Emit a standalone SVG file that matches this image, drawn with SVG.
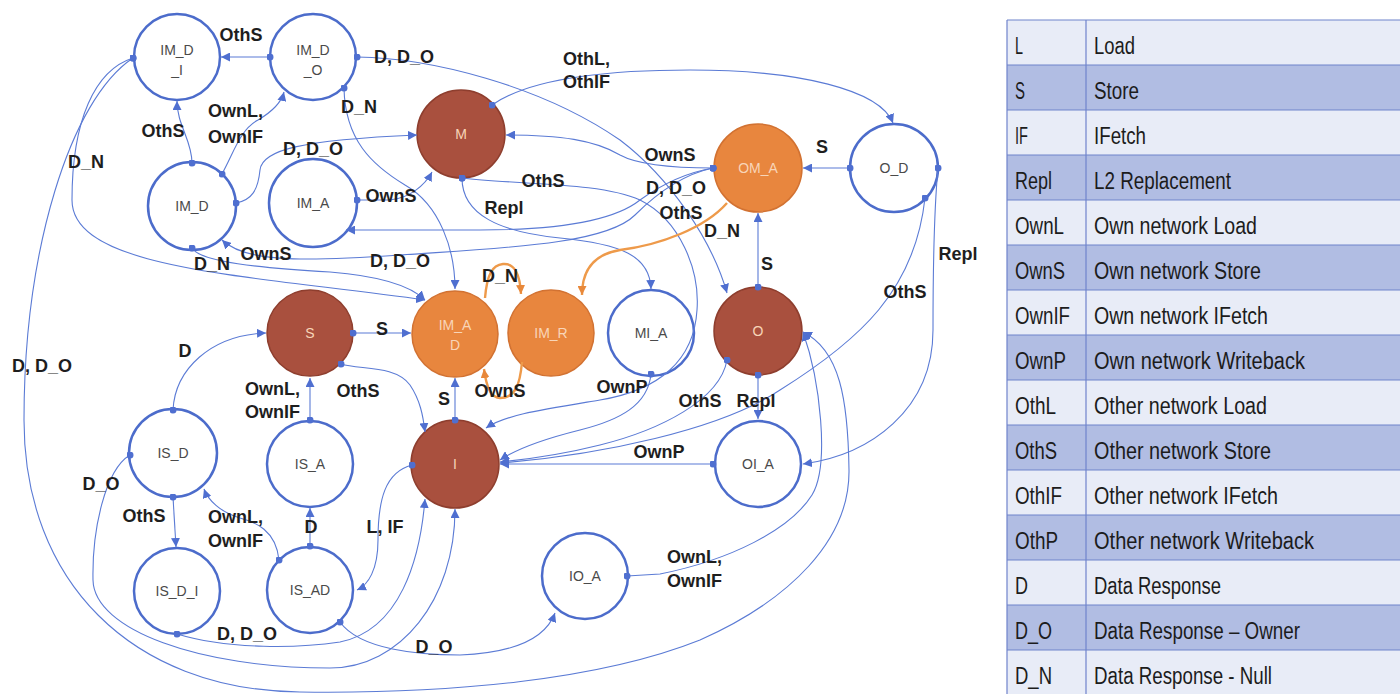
<svg xmlns="http://www.w3.org/2000/svg" width="1400" height="694" viewBox="0 0 1400 694">
<defs>
<style>
.nw{fill:#ffffff;stroke:#4C6CCB;stroke-width:2.5}
.nb{fill:#A9503E;stroke:#8E3E2E;stroke-width:1.5}
.no{fill:#E8863E;stroke:#D27232;stroke-width:1.5}
.tw{font-family:"Liberation Sans",Arial,sans-serif;font-size:14px;fill:#4a4a4a;text-anchor:middle}
.tc{font-family:"Liberation Sans",Arial,sans-serif;font-size:14px;fill:#F8D5B8;text-anchor:middle}
.e{fill:none;stroke:#5B7BD5;stroke-width:1.1;marker-start:url(#dot);marker-end:url(#arr)}
.eo{fill:none;stroke:#EE9A4A;stroke-width:2.4;marker-end:url(#arro)}
.lb{font-family:"Liberation Sans",Arial,sans-serif;font-size:18px;font-weight:bold;fill:#1e1e1e;text-anchor:middle}
.ls{font-family:"Liberation Sans",Arial,sans-serif;font-size:18px;font-weight:bold;fill:#1e1e1e}
.tt{font-family:"Liberation Sans",Arial,sans-serif;font-size:23.5px;fill:#1c1c1c}
.rl{fill:#E8ECF7}
.rd{fill:#B1BDE3}
.gl{stroke:#6F83CC;stroke-width:1.2}
</style>
<marker id="arr" viewBox="0 0 10 10" refX="10" refY="5" markerWidth="9" markerHeight="9" markerUnits="userSpaceOnUse" orient="auto"><path d="M0,0 L10,5 L0,10 z" fill="#4F6FD0"/></marker>
<marker id="arro" viewBox="0 0 10 10" refX="10" refY="5" markerWidth="9" markerHeight="9" markerUnits="userSpaceOnUse" orient="auto"><path d="M0,0 L10,5 L0,10 z" fill="#E8883A"/></marker>
<marker id="dot" viewBox="0 0 8 8" refX="4" refY="4" markerWidth="7" markerHeight="7" markerUnits="userSpaceOnUse"><circle cx="4" cy="4" r="4" fill="#4F6FD0"/></marker>
</defs>
<rect width="1400" height="694" fill="#ffffff"/>

<g id="legend">
<rect class="rl" x="1007" y="20" width="400" height="45"/>
<rect class="rd" x="1007" y="65" width="400" height="45"/>
<rect class="rl" x="1007" y="110" width="400" height="45"/>
<rect class="rd" x="1007" y="155" width="400" height="45"/>
<rect class="rl" x="1007" y="200" width="400" height="45"/>
<rect class="rd" x="1007" y="245" width="400" height="45"/>
<rect class="rl" x="1007" y="290" width="400" height="45"/>
<rect class="rd" x="1007" y="335" width="400" height="45"/>
<rect class="rl" x="1007" y="380" width="400" height="45"/>
<rect class="rd" x="1007" y="425" width="400" height="45"/>
<rect class="rl" x="1007" y="470" width="400" height="45"/>
<rect class="rd" x="1007" y="515" width="400" height="45"/>
<rect class="rl" x="1007" y="560" width="400" height="45"/>
<rect class="rd" x="1007" y="605" width="400" height="45"/>
<rect class="rl" x="1007" y="650" width="400" height="45"/>
<g class="gl">
<line x1="1007" y1="20" x2="1400" y2="20"/><line x1="1007" y1="65" x2="1400" y2="65"/><line x1="1007" y1="110" x2="1400" y2="110"/><line x1="1007" y1="155" x2="1400" y2="155"/><line x1="1007" y1="200" x2="1400" y2="200"/><line x1="1007" y1="245" x2="1400" y2="245"/><line x1="1007" y1="290" x2="1400" y2="290"/><line x1="1007" y1="335" x2="1400" y2="335"/><line x1="1007" y1="380" x2="1400" y2="380"/><line x1="1007" y1="425" x2="1400" y2="425"/><line x1="1007" y1="470" x2="1400" y2="470"/><line x1="1007" y1="515" x2="1400" y2="515"/><line x1="1007" y1="560" x2="1400" y2="560"/><line x1="1007" y1="605" x2="1400" y2="605"/><line x1="1007" y1="650" x2="1400" y2="650"/>
<line x1="1007" y1="20" x2="1007" y2="694"/><line x1="1086" y1="20" x2="1086" y2="694"/>
</g>
<text class="tt" x="1015" y="54" textLength="8" lengthAdjust="spacingAndGlyphs">L</text>
<text class="tt" x="1094" y="54" textLength="41" lengthAdjust="spacingAndGlyphs">Load</text>
<text class="tt" x="1015" y="99" textLength="10" lengthAdjust="spacingAndGlyphs">S</text>
<text class="tt" x="1094" y="99" textLength="45" lengthAdjust="spacingAndGlyphs">Store</text>
<text class="tt" x="1015" y="144" textLength="13" lengthAdjust="spacingAndGlyphs">IF</text>
<text class="tt" x="1094" y="144" textLength="52" lengthAdjust="spacingAndGlyphs">IFetch</text>
<text class="tt" x="1015" y="189" textLength="37" lengthAdjust="spacingAndGlyphs">Repl</text>
<text class="tt" x="1094" y="189" textLength="137" lengthAdjust="spacingAndGlyphs">L2 Replacement</text>
<text class="tt" x="1015" y="234" textLength="49" lengthAdjust="spacingAndGlyphs">OwnL</text>
<text class="tt" x="1094" y="234" textLength="163" lengthAdjust="spacingAndGlyphs">Own network Load</text>
<text class="tt" x="1015" y="279" textLength="50" lengthAdjust="spacingAndGlyphs">OwnS</text>
<text class="tt" x="1094" y="279" textLength="167" lengthAdjust="spacingAndGlyphs">Own network Store</text>
<text class="tt" x="1015" y="324" textLength="55" lengthAdjust="spacingAndGlyphs">OwnIF</text>
<text class="tt" x="1094" y="324" textLength="174" lengthAdjust="spacingAndGlyphs">Own network IFetch</text>
<text class="tt" x="1015" y="369" textLength="51" lengthAdjust="spacingAndGlyphs">OwnP</text>
<text class="tt" x="1094" y="369" textLength="211" lengthAdjust="spacingAndGlyphs">Own network Writeback</text>
<text class="tt" x="1015" y="414" textLength="41" lengthAdjust="spacingAndGlyphs">OthL</text>
<text class="tt" x="1094" y="414" textLength="173" lengthAdjust="spacingAndGlyphs">Other network Load</text>
<text class="tt" x="1015" y="459" textLength="42" lengthAdjust="spacingAndGlyphs">OthS</text>
<text class="tt" x="1094" y="459" textLength="177" lengthAdjust="spacingAndGlyphs">Other network Store</text>
<text class="tt" x="1015" y="504" textLength="47" lengthAdjust="spacingAndGlyphs">OthIF</text>
<text class="tt" x="1094" y="504" textLength="184" lengthAdjust="spacingAndGlyphs">Other network IFetch</text>
<text class="tt" x="1015" y="549" textLength="43" lengthAdjust="spacingAndGlyphs">OthP</text>
<text class="tt" x="1094" y="549" textLength="220" lengthAdjust="spacingAndGlyphs">Other network Writeback</text>
<text class="tt" x="1015" y="594" textLength="13" lengthAdjust="spacingAndGlyphs">D</text>
<text class="tt" x="1094" y="594" textLength="127" lengthAdjust="spacingAndGlyphs">Data Response</text>
<text class="tt" x="1015" y="639" textLength="37" lengthAdjust="spacingAndGlyphs">D_O</text>
<text class="tt" x="1094" y="639" textLength="206" lengthAdjust="spacingAndGlyphs">Data Response – Owner</text>
<text class="tt" x="1015" y="684" textLength="37" lengthAdjust="spacingAndGlyphs">D_N</text>
<text class="tt" x="1094" y="684" textLength="178" lengthAdjust="spacingAndGlyphs">Data Response - Null</text>
</g>

<g id="node-IM_D_I"><circle class="nw" cx="177" cy="57" r="43"/><text class="tw" x="177" y="55">IM_D</text><text class="tw" x="177" y="75">_I</text></g>
<g id="node-IM_D_O"><circle class="nw" cx="313" cy="57" r="43"/><text class="tw" x="313" y="55">IM_D</text><text class="tw" x="313" y="75">_O</text></g>
<g id="node-IM_D"><circle class="nw" cx="192" cy="206" r="44"/><text class="tw" x="192" y="211">IM_D</text></g>
<g id="node-IM_A"><circle class="nw" cx="313" cy="203" r="44"/><text class="tw" x="313" y="208">IM_A</text></g>
<g id="node-M"><circle class="nb" cx="461" cy="134" r="44"/><text class="tc" x="461" y="139">M</text></g>
<g id="node-OM_A"><circle class="no" cx="758" cy="168" r="44"/><text class="tc" x="758" y="173">OM_A</text></g>
<g id="node-O_D"><circle class="nw" cx="894" cy="168" r="44"/><text class="tw" x="894" y="173">O_D</text></g>
<g id="node-S"><circle class="nb" cx="310" cy="333" r="43"/><text class="tc" x="310" y="338">S</text></g>
<g id="node-IM_AD"><circle class="no" cx="455" cy="334" r="43"/><text class="tc" x="455" y="330">IM_A</text><text class="tc" x="455" y="350">D</text></g>
<g id="node-IM_R"><circle class="no" cx="551" cy="333" r="43"/><text class="tc" x="551" y="338">IM_R</text></g>
<g id="node-MI_A"><circle class="nw" cx="651" cy="333" r="43"/><text class="tw" x="651" y="338">MI_A</text></g>
<g id="node-O"><circle class="nb" cx="758" cy="331" r="44"/><text class="tc" x="758" y="336">O</text></g>
<g id="node-I"><circle class="nb" cx="455" cy="464" r="44"/><text class="tc" x="455" y="469">I</text></g>
<g id="node-OI_A"><circle class="nw" cx="758" cy="464" r="43"/><text class="tw" x="758" y="469">OI_A</text></g>
<g id="node-IS_D"><circle class="nw" cx="173" cy="453" r="44"/><text class="tw" x="173" y="458">IS_D</text></g>
<g id="node-IS_A"><circle class="nw" cx="310" cy="464" r="43"/><text class="tw" x="310" y="469">IS_A</text></g>
<g id="node-IS_D_I"><circle class="nw" cx="177" cy="591" r="43"/><text class="tw" x="177" y="596">IS_D_I</text></g>
<g id="node-IS_AD"><circle class="nw" cx="310" cy="590" r="43"/><text class="tw" x="310" y="595">IS_AD</text></g>
<g id="node-IO_A"><circle class="nw" cx="585" cy="576" r="43"/><text class="tw" x="585" y="581">IO_A</text></g>

<g id="connectors">
<path class="e" d="M270,57 L221,57"/>
<path class="e" d="M357,57 C430,58 540,85 620,140 C670,178 712,240 727,293"/>
<path class="e" d="M492,105 C525,82 590,70 690,70 C800,70 880,90 893,123"/>
<path class="e" d="M344,88 C345,140 372,165 405,185 C440,205 455,250 455,289"/>
<path class="e" d="M192,163 C192,140 177,125 177,101"/>
<path class="e" d="M222,174 C235,150 240,130 258,120 C275,110 282,100 284,92"/>
<path class="e" d="M236,203 C252,200 258,190 260,170 C262,150 300,140 417,135"/>
<path class="e" d="M357,200 L390,200 C410,198 425,185 432,172"/>
<path class="e" d="M133,58 C95,70 72,120 72,200 C72,270 250,275 425,300"/>
<path class="e" d="M133,58 C70,100 24,250 24,420 C24,580 130,690 300,692 C450,694 600,680 700,640 C790,600 850,540 849,470 C848,400 840,350 803,332"/>
<path class="e" d="M192,248 C200,262 260,268 330,272 C380,276 410,285 425,300"/>
<path class="e" d="M713,168 C680,175 655,195 635,215 C605,245 500,248 400,255 C300,262 245,262 222,240"/>
<path class="e" d="M713,168 C690,172 665,182 640,200 C615,220 560,230 480,230 L346,230"/>
<path class="e" d="M713,168 C680,168 640,166 620,155 C595,140 560,135 506,135"/>
<path class="e" d="M462,178 C462,215 500,232 560,238 C620,244 650,255 651,289"/>
<path class="e" d="M462,178 C520,185 600,182 640,200 C680,220 700,270 697,310 C694,360 660,390 600,400 C540,410 505,415 486,428"/>
<path class="eo" d="M727,203 C705,228 660,245 620,250 C590,255 582,275 582,295"/>
<path class="e" d="M850,168 L803,168"/>
<path class="e" d="M758,287 L758,213"/>
<path class="e" d="M938,168 C935,200 933,260 933,330 C933,410 870,455 803,464"/>
<path class="e" d="M925,198 C915,290 860,340 780,390 C720,430 600,455 500,463"/>
<path class="e" d="M353,333 L411,333"/>
<path class="e" d="M173,410 C175,370 210,335 266,333"/>
<path class="e" d="M310,420 L310,378"/>
<path class="e" d="M341,364 C360,370 395,365 410,385 C420,400 423,415 425,432"/>
<path class="e" d="M455,420 L455,378"/>
<path class="eo" d="M485,298 C487,275 492,265 503,264 C515,263 520,275 521,294"/>
<path class="eo" d="M522,362 C520,385 515,398 500,398 C490,398 486,385 484,369"/>
<path class="e" d="M651,374 C648,405 620,420 580,430 C540,440 515,450 500,460"/>
<path class="e" d="M727,360 C720,400 660,430 600,445 C560,455 520,460 500,462"/>
<path class="e" d="M758,375 L758,419"/>
<path class="e" d="M713,464 L500,464"/>
<path class="e" d="M412,465 C385,472 378,500 378,540 C378,570 368,585 357,590"/>
<path class="e" d="M310,546 L310,508"/>
<path class="e" d="M279,560 C276,530 255,522 240,518 C220,512 208,500 204,489"/>
<path class="e" d="M173,497 L176,547"/>
<path class="e" d="M130,455 C105,470 92,530 93,580 C94,630 200,668 330,668 C400,668 455,600 455,509"/>
<path class="e" d="M177,634 C230,650 300,648 340,642 C400,630 420,560 425,499"/>
<path class="e" d="M340,622 C360,650 420,655 460,655 C510,653 545,640 555,613"/>
<path class="e" d="M627,576 L660,574 C730,560 790,530 812,495 C830,465 820,380 803,332"/>
</g>

<g id="labels">
<text class="lb" x="241" y="41">OthS</text>
<text class="lb" x="404" y="63">D, D_O</text>
<text class="ls" x="563" y="65">OthL,</text><text class="ls" x="563" y="88">OthIF</text>
<text class="lb" x="359" y="113">D_N</text>
<text class="ls" x="208" y="117">OwnL,</text><text class="ls" x="208" y="143">OwnIF</text>
<text class="lb" x="163" y="137">OthS</text>
<text class="lb" x="313" y="155">D, D_O</text>
<text class="lb" x="86" y="168">D_N</text>
<text class="lb" x="391" y="202">OwnS</text>
<text class="lb" x="543" y="187">OthS</text>
<text class="lb" x="504" y="214">Repl</text>
<text class="lb" x="670" y="161">OwnS</text>
<text class="lb" x="822" y="153">S</text>
<text class="lb" x="676" y="194">D, D_O</text>
<text class="lb" x="681" y="219">OthS</text>
<text class="lb" x="722" y="237">D_N</text>
<text class="lb" x="266" y="260">OwnS</text>
<text class="lb" x="212" y="270">D_N</text>
<text class="lb" x="400" y="267">D, D_O</text>
<text class="lb" x="500" y="282">D_N</text>
<text class="lb" x="767" y="270">S</text>
<text class="lb" x="958" y="260">Repl</text>
<text class="lb" x="905" y="298">OthS</text>
<text class="lb" x="382" y="335">S</text>
<text class="lb" x="185" y="357">D</text>
<text class="lb" x="42" y="372">D, D_O</text>
<text class="ls" x="245" y="395">OwnL,</text><text class="ls" x="245" y="418">OwnIF</text>
<text class="lb" x="358" y="397">OthS</text>
<text class="lb" x="500" y="397">OwnS</text>
<text class="lb" x="444" y="405">S</text>
<text class="lb" x="622" y="393">OwnP</text>
<text class="lb" x="700" y="407">OthS</text>
<text class="lb" x="756" y="407">Repl</text>
<text class="lb" x="659" y="458">OwnP</text>
<text class="lb" x="101" y="490">D_O</text>
<text class="lb" x="144" y="522">OthS</text>
<text class="ls" x="208" y="523">OwnL,</text><text class="ls" x="208" y="547">OwnIF</text>
<text class="lb" x="311" y="533">D</text>
<text class="lb" x="385" y="533">L, IF</text>
<text class="ls" x="667" y="563">OwnL,</text><text class="ls" x="667" y="587">OwnIF</text>
<text class="lb" x="247" y="640">D, D_O</text>
<text class="lb" x="434" y="653">D_O</text>
</g>
</svg>
